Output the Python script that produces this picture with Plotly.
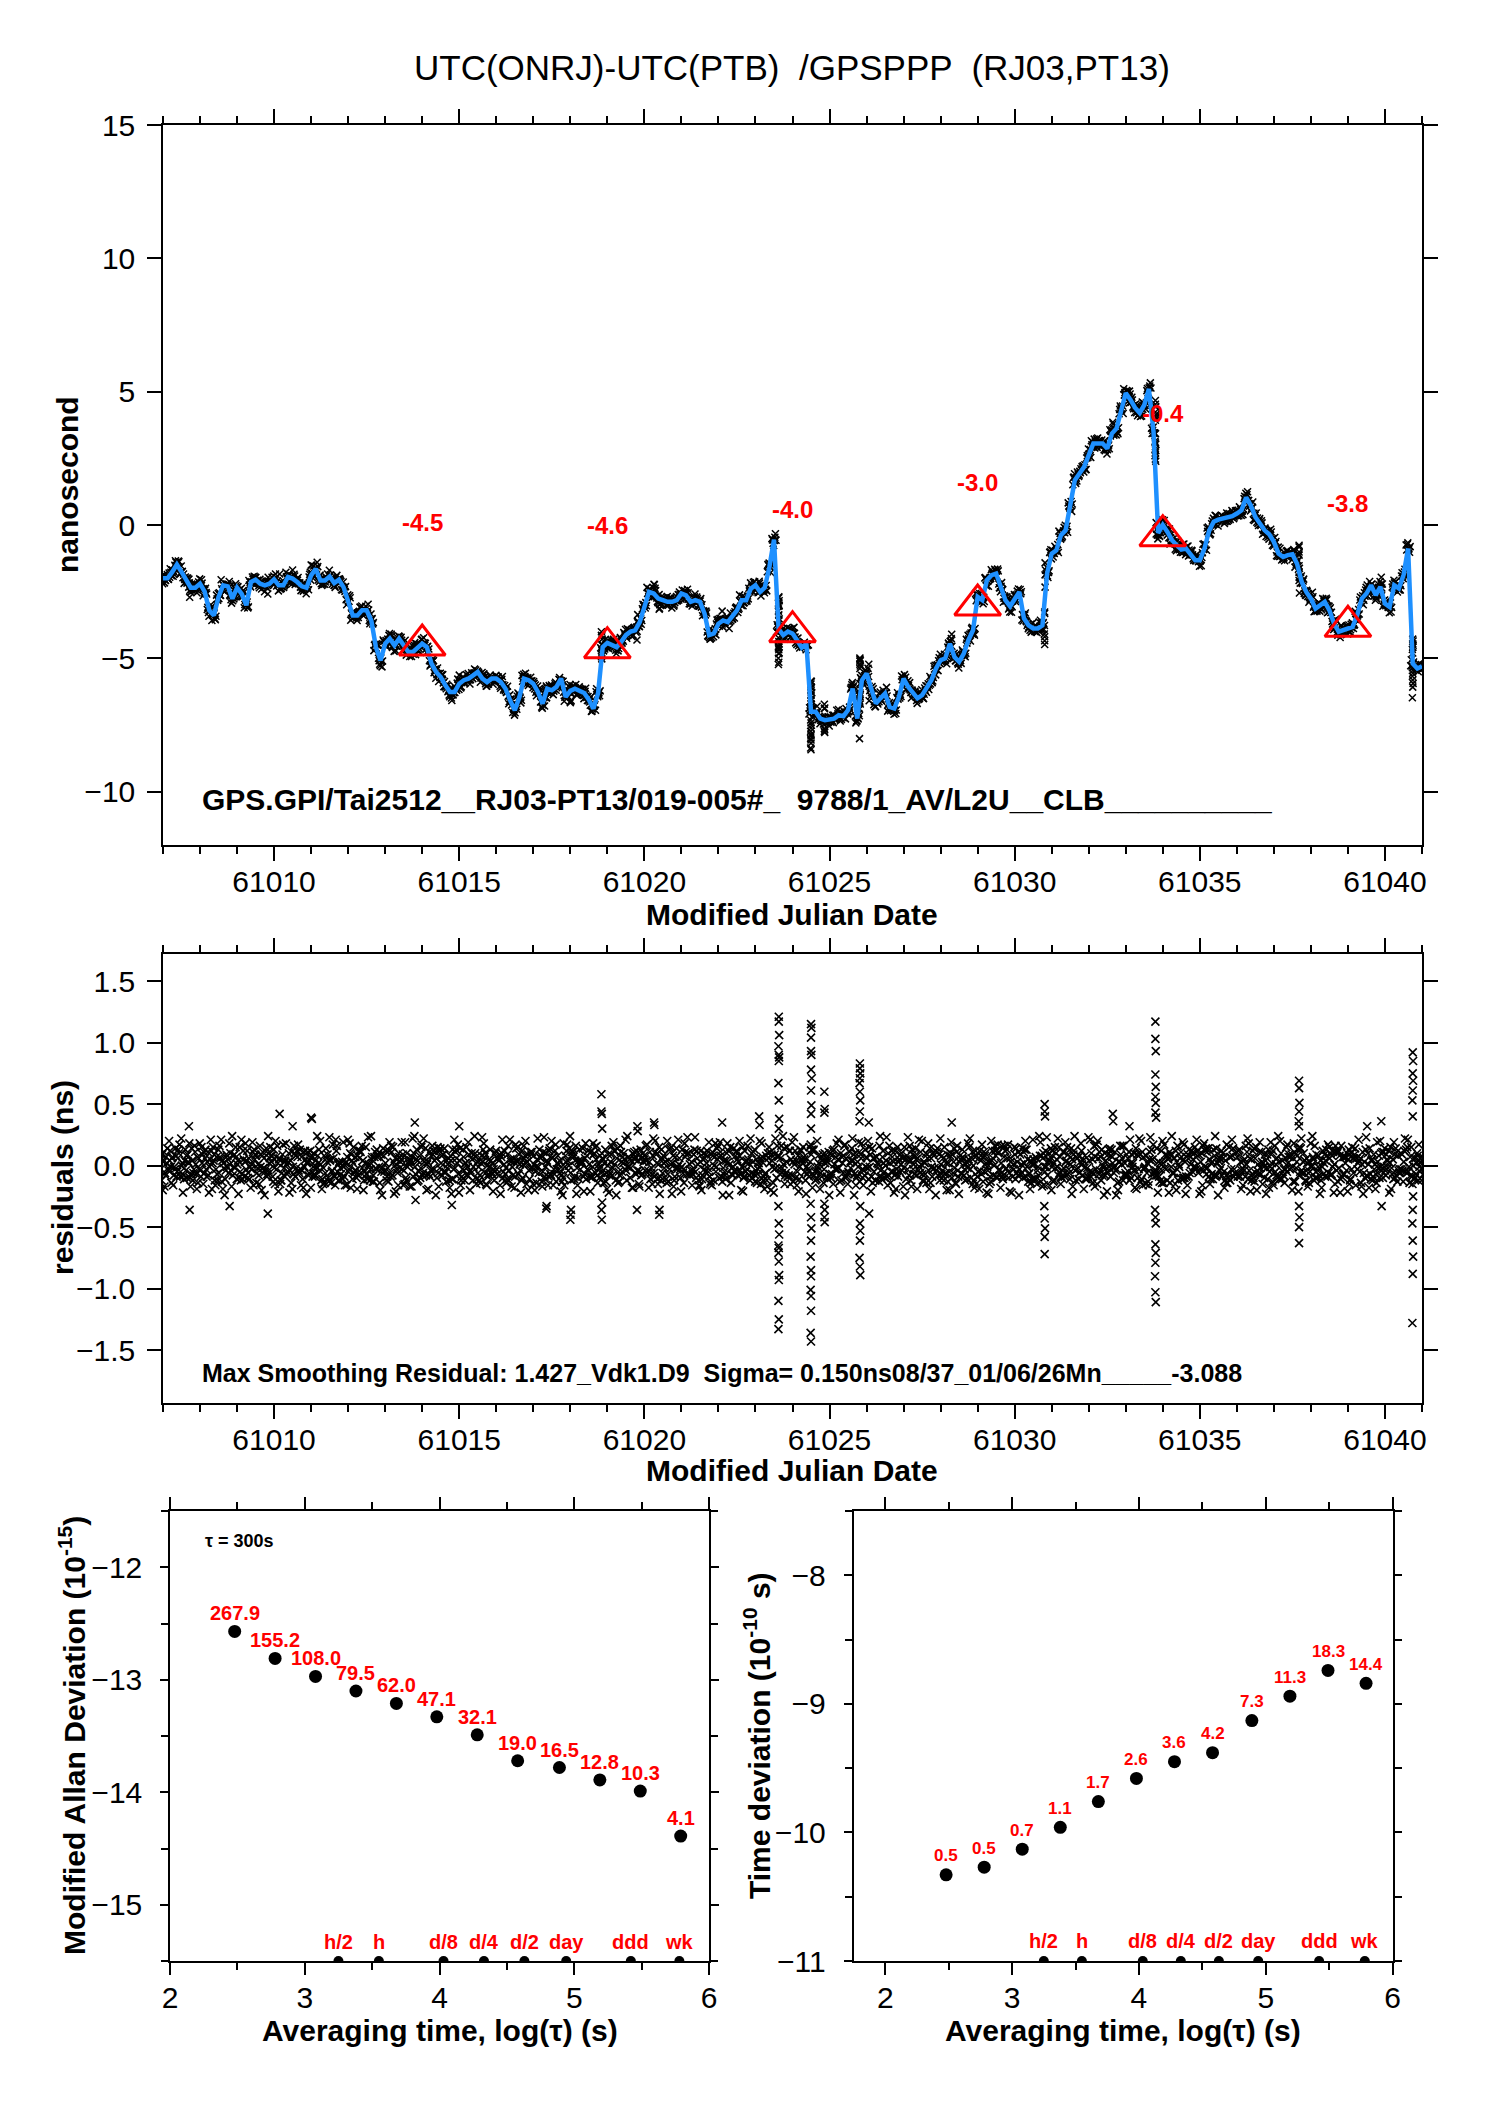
import numpy as np
import plotly.graph_objects as go

# ---------------- data ----------------
MJD0 = 61007.0
STEP = 0.125  # days between smoothed samples

# smoothed UTC(ONRJ)-UTC(PTB), ns (one row per day, 8 samples per day)
smooth_ns = [
    -2.00, -2.00, -1.76, -1.48, -1.76, -2.08, -2.35, -2.35,
    -2.20, -2.50, -3.20, -3.39, -2.70, -2.26, -2.30, -2.76,
    -2.35, -2.58, -3.01, -2.14, -2.05, -2.20, -2.26, -2.20,
    -2.04, -2.26, -2.26, -1.95, -2.01, -2.14, -2.30, -2.35,
    -1.89, -1.64, -2.08, -2.08, -1.93, -2.18, -2.05, -2.33,
    -2.83, -3.39, -3.39, -3.20, -3.20, -3.58, -4.58, -5.08,
    -4.45, -4.26, -4.51, -4.26, -4.51, -4.76, -4.76, -4.58,
    -4.45, -4.58, -5.20, -5.51, -5.70, -6.01, -6.26, -6.26,
    -5.95, -5.82, -5.76, -5.64, -5.51, -5.76, -5.89, -5.76,
    -5.76, -5.89, -6.14, -6.58, -6.95, -6.45, -5.76, -5.82,
    -5.95, -6.26, -6.70, -6.14, -6.20, -6.07, -5.76, -6.45,
    -6.22, -6.14, -6.20, -6.30, -6.55, -6.89, -6.30, -4.58,
    -4.42, -4.48, -4.58, -4.38, -4.13, -4.00, -3.95, -3.64,
    -3.07, -2.51, -2.57, -2.76, -2.82, -2.88, -2.88, -2.82,
    -2.57, -2.64, -2.88, -2.82, -2.88, -3.32, -4.13, -4.07,
    -3.70, -3.58, -3.64, -3.45, -3.20, -2.82, -2.82, -2.39,
    -2.26, -2.51, -2.35, -1.58, -0.55, -3.90, -4.13, -4.00,
    -4.07, -4.32, -4.60, -4.45, -7.00, -7.00, -7.26, -7.32,
    -7.30, -7.26, -7.13, -7.17, -6.94, -6.13, -7.26, -5.82,
    -5.57, -6.20, -6.69, -6.50, -6.32, -6.82, -6.88, -6.44,
    -5.76, -6.07, -6.32, -6.50, -6.38, -6.13, -5.82, -5.38,
    -5.07, -5.00, -4.45, -4.95, -5.13, -4.82, -4.32, -3.95,
    -2.69, -2.82, -2.07, -1.88, -1.82, -2.32, -2.82, -3.05,
    -2.76, -2.51, -3.50, -3.76, -3.88, -3.88, -3.76, -1.82,
    -1.07, -0.95, -0.38, -0.20, 0.74, 1.68, 1.93, 2.18,
    2.62, 3.06, 3.06, 3.06, 2.87, 3.43, 3.62, 4.30,
    4.95, 4.70, 4.40, 4.20, 4.50, 5.10, 3.50, -0.30,
    0.00, -0.26, -0.57, -0.76, -0.92, -0.88, -1.07, -1.32,
    -1.32, -0.88, -0.22, 0.12, 0.20, 0.24, 0.28, 0.33,
    0.43, 0.55, 1.03, 0.74, 0.30, 0.05, -0.20, -0.35,
    -0.63, -1.07, -1.20, -1.13, -1.10, -1.45, -2.13, -2.51,
    -2.76, -3.13, -3.00, -2.88, -3.20, -3.70, -4.00, -3.93,
    -3.88, -3.82, -3.38, -2.76, -2.57, -2.26, -2.63, -2.32,
    -2.95, -3.07, -2.26, -2.38, -1.88, -0.88, -5.20, -5.38,
    -5.30,
]

# residuals of the raw 300 s points about the smoothed curve (units of 0.01 ns),
# eight samples around each smoothed node
resid_a = [
    5, -8, 12, -3, 17, -11, 2, -6,   -14, 9, 3, -19, 7, 21, -4, 10,
    -2, 15, -9, 6, -16, 1, 11, -7,   8, -3, -12, 18, 4, -9, 13, -1,
    -6, 10, 2, -15, 9, -4, 16, -10,  3, -18, 7, 12, -5, 0, -13, 8,
    14, -2, -8, 5, 19, -12, 4, -7,   -10, 6, 11, -3, -17, 9, 1, 13,
    2, -9, 15, -6, 7, -14, 10, -1,   -12, 4, -5, 16, -8, 3, 12, -15,
    9, -1, 6, -11, 14, -7, -3, 18,   -4, 11, -16, 2, 8, -10, 5, -2,
    13, -6, 1, -13, 10, 7, -18, 4,   -7, 17, -2, 9, -12, 3, 14, -9,
    6, -14, 10, -4, 1, -8, 12, -16,  -1, 8, -11, 15, -5, 20, -9, 2,
    11, -3, 7, -17, 4, -10, 16, -6,  -15, 12, -1, 5, -9, 13, -4, 9,
    3, -7, 18, -12, 6, -2, 10, -13,  -8, 15, -5, 1, 12, -16, 7, -3,
    10, -11, 4, 14, -6, 2, -19, 8,   -2, 6, -13, 9, 16, -7, 3, -10,
    12, -4, 8, -15, 0, 11, -8, 17,   -9, 3, -6, 13, -14, 7, 19, -5,
    4, -12, 15, -2, 9, -17, 6, 1,    -11, 10, -3, 7, -8, 14, -1, -13,
    16, -5, 2, -10, 11, -6, 13, -4,  -3, 9, -14, 6, -1, 17, -9, 5,
    8, -16, 11, -7, 14, -2, 4, -12,  -6, 13, -4, 18, -10, 1, -15, 9,
    2, -8, 10, -3, 7, -13, 15, -6,   -14, 5, -1, 12, -9, 8, -4, 16,
    7, -11, 14, -5, 3, -18, 9, -2,   -10, 4, -7, 11, -3, 13, -8, 6,
    -5,
]
resid_b = [
    -12, 7, -1, 14, -9, 4, 18, -3,   6, -15, 11, 2, -7, -13, 9, -4,
    15, -5, 3, -11, 13, -8, -2, 10,  -9, 16, -6, 1, -14, 8, -3, 12,
    4, -7, 13, -2, -10, 17, -5, 3,   -16, 9, -4, 11, 2, -12, 7, -1,
    8, -13, 15, -6, -3, 10, -17, 5,  -2, 14, -9, 4, 12, -5, 6, -11,
    17, -3, -8, 10, -15, 2, -6, 13,  -5, 9, 1, -12, 6, 15, -10, 3,
    11, -14, 8, -1, -7, 12, 4, -16,  0, 7, -10, 14, -3, -9, 16, -6,
    -13, 3, 12, -8, 5, -1, 9, -4,    10, -6, -15, 2, 13, -11, 1, 7,
    -3, 18, -7, 9, -12, 5, -2, 11,   14, -9, 4, -14, 8, -4, 12, -8,
    -7, 2, -12, 10, -1, 16, -6, 3,   5, -10, 13, -5, 15, -8, 2, -14,
    -11, 12, -3, 7, -9, 4, -16, 9,   13, -1, 6, -13, 2, 10, -5, 15,
    -4, 8, -17, 5, 11, -7, 14, -2,   9, -12, 2, -6, -4, 13, -11, 6,
    -15, 4, 10, -9, 16, -3, 7, -10,  1, -8, 14, -1, -11, 6, -13, 12,
    7, 15, -6, 11, -3, 9, -2, -8,    -2, -5, 17, -12, 4, -9, 11, 3,
    -8, 11, -4, 8, -16, 2, -7, 14,   12, -3, 9, -15, 6, -10, 13, -1,
    -6, 16, -2, 3, -8, 12, -14, 7,   10, -9, 5, -4, 14, -7, 2, -11,
    -13, 6, -11, 15, -2, 9, -5, 4,   3, -12, 8, -7, 17, -1, 10, -9,
    -4, 10, -16, 6, -10, 14, -3, 8,  11, -2, 5, -13, 9, -6, 15, -7,
    3,
]
resid_c = [
    9, 2, -14, 8, -5, 13, -10, 16,   -3, 11, -8, 15, -12, 4, -1, -17,
    7, -12, 18, -1, 5, -15, 6, -4,   -13, 2, 9, -7, 11, -2, -16, 5,
    12, -9, -4, 8, -13, 6, 1, -11,   7, 4, -10, -6, 15, -3, 11, -14,
    -5, 12, 3, -16, 9, -1, 7, 13,    15, -8, -4, 11, -2, 14, -12, -3,
    -7, 13, -1, 5, -11, 8, -15, 4,   10, -16, 12, -4, 3, -7, 1, 9,
    -2, 5, -13, 10, -8, 17, -6, -1,  14, -11, 4, -9, 12, -1, -8, 10,
    -6, 9, -12, 16, -3, 5, 11, -15,  3, -4, 8, -11, 6, -14, 15, -2,
    -10, 7, 1, 13, -16, 10, -5, 8,   5, -13, 10, -2, 11, -7, 3, -12,
    13, -1, -9, 6, -14, 8, -2, 15,   -8, 4, 12, -12, 3, -5, 9, -3,
    11, -15, 5, 2, -7, 14, -10, 6,   -1, 9, -12, 16, -5, -8, 3, -9,
    6, -3, 13, -8, 1, 10, -14, 12,   -12, 15, -5, 3, -9, 7, -2, 11,
    8, -7, 2, -13, 12, -4, 16, -6,   -3, 11, -10, 5, 1, -15, 8, -1,
    14, -2, 7, -9, -6, 12, -11, 4,   -9, 5, -15, 13, -2, 8, -4, 16,
    2, -12, 10, -3, 7, -13, 5, -8,   -14, 8, -1, 12, -10, 3, -6, 10,
    9, -4, 14, -11, 2, -8, 17, -3,   -7, 3, -9, 6, -13, 11, -1, 13,
    12, -10, 4, -5, 9, -2, 14, -12,  -5, 16, -8, 2, -6, 11, -13, 7,
    10, -3, 6, -14, 13, -7, 1, -10,  -1, 12, -11, 8, -4, 15, -9, 2,
    7,
]
resid_d = [
    -20, 14, 6, -9, 22, -4, -17, 11,   18, -6, -22, 4, 13, -19, 8, 24,
    -11, 21, -3, -18, 9, 16, -24, 2,   13, -21, 17, -5, -19, 12, 7, -23,
    -18, 4, 20, -14, 23, -8, -12, 19,  21, -11, -19, 16, -7, 24, -2, -20,
    -4, 19, -23, 10, -16, 6, 22, -13,  17, -20, 8, -24, 14, -6, -18, 21,
    -22, 7, 19, -12, 3, 23, -16, -5,   12, -23, -7, 21, -18, 9, 16, -20,
    -15, 22, -17, 4, 20, -13, -21, 8,  24, -9, 13, -21, -4, 18, -14, 6,
    -19, 16, -24, 11, 21, -10, 5, -17, 8, -18, 22, -15, -6, 20, -23, 14,
    -21, 11, -8, 23, -17, -3, 19, -12, 16, -24, 18, -7, 12, -20, -5, 22,
    -13, 20, -19, 15, -22, 7, 24, -9,  19, -16, 5, -23, 17, -12, -19, 10,
    -24, 13, 21, -6, -15, 22, -8, 18,  7, -21, -12, 24, -10, 16, -22, 3,
    -17, 23, 9, -19, 20, -14, 6, -24,  22, -7, -20, 14, -23, 5, 18, -15,
    -9, 17, -22, 20, 8, -18, 12, -21,  15, -24, 11, -13, 21, -4, -17, 23,
    -20, 10, -15, 19, -11, 24, -6, -19, 23, -14, 20, -8, -21, 13, -24, 9,
    -6, 21, -18, 22, -3, -16, 17, -22, 20, -12, 24, -20, 11, -23, 7, 15,
    -23, 18, -9, 13, -24, 10, -14, 21, 11, -19, 16, -21, 6, 19, -10, -18,
    -16, 24, -5, 17, -20, 3, 22, -13,  18, -10, -23, 9, 15, -22, 12, -7,
    -21, 15, 6, -17, 23, -11, -19, 20, 14, -22, 19, -4, -13, 21, -15, 10,
    -12,
]
resid_e = [
    3, -2, 7, -5, 0, 8, -7, 1,     -4, 6, -1, 9, -6, 2, 5, -8,
    1, -7, 4, -3, 8, -1, -5, 6,    -2, 5, -8, 3, -1, 7, -4, 2,
    6, -3, 1, -6, 4, -9, 3, -1,    -5, 2, 8, -2, -7, 5, -3, 9,
    2, -6, 0, 7, -4, 3, -9, 4,     -8, 1, -3, 6, 2, -5, 8, -2,
    4, -4, 9, -1, -6, 3, 0, -7,    -3, 7, -2, 5, -9, 1, 6, -4,
    8, -1, -5, 2, 6, -3, -8, 3,    -6, 4, 2, -7, 1, 9, -2, 5,
    0, -8, 6, 3, -4, -2, 7, -5,    5, 3, -6, 1, 8, -7, 2, -3,
    -1, 9, -4, -5, 3, 6, -9, 0,    7, -2, 3, -8, 5, -1, 4, -6,
    -4, 6, -7, 2, -3, 8, 1, -9,    3, -5, 5, -1, 9, -4, -6, 2,
    -7, 1, -2, 8, -5, 4, 3, -3,    6, -9, 7, -4, 0, 2, -8, 5,
    -2, 4, -3, 6, -7, 9, -1, -4,   1, -6, 8, -2, 3, -8, 5, 0,
    -5, 7, -1, 4, -9, 2, -3, 6,    9, -3, 2, -7, 5, -1, 6, -8,
    -1, 5, -9, 3, 1, -4, 8, -2,    4, -7, 6, 0, -5, 7, -3, 1,
    -8, 2, -4, 9, -2, 5, -6, 3,    2, 8, -6, -3, 7, -9, 1, -1,
    -3, -1, 5, -8, 4, 6, -7, 8,    7, -4, 1, 5, -6, -2, 9, -5,
    -6, 3, -8, 2, -1, 8, -4, 6,    0, -5, 4, -9, 6, 1, -2, 7,
    5, 6, -3, 1, -8, 4, -7, -1,    -4, 2, 9, -6, 3, -5, 0, 8,
    -2,
]
resid_f = [
    11, -4, -16, 6, 2, -10, 14, -7,   -9, 13, 5, -12, 16, -2, -6, 8,
    4, -11, 12, 1, -14, 9, -3, 15,    -15, 6, -2, 10, -7, 17, -11, 3,
    8, -1, -12, 14, 5, -16, 2, -9,    -3, 15, -8, 4, -11, 7, 13, -5,
    12, -9, 6, -2, -15, 1, 10, -12,   -6, 3, 16, -10, 8, -13, 4, 11,
    14, -12, -5, 9, -1, 13, -9, 2,    -7, 10, -14, 3, 17, -4, 8, -11,
    1, -6, 11, -16, 7, 2, -13, 12,    -12, 16, -3, 6, -9, 10, 1, -14,
    9, -2, 14, -5, -12, 4, -7, 13,    -4, 11, -9, 15, 2, -13, 8, -1,
    13, -7, 3, -10, 12, -5, -15, 7,   -10, 4, 12, -1, -8, 15, -3, 10,
    5, -15, -6, 11, 9, -2, 14, -8,    -13, 8, 2, -7, 13, -11, 6, 4,
    10, -3, -13, 16, -6, 9, -1, -10,  -2, 14, 7, -9, 4, -14, 12, -5,
    15, -8, 1, -4, -12, 6, -9, 11,    -7, 2, 10, -14, 8, -3, 15, -12,
    6, -13, -4, 12, -10, 16, -2, 3,   -11, 9, 13, -6, 1, -8, 10, -15,
    12, -1, -10, 4, 14, -12, 3, 8,    -5, 16, -7, -2, 9, 2, -14, 6,
    9, -10, 14, -13, -1, 11, -4, -9,  -14, 5, -6, 16, -11, 7, 12, -3,
    3, 12, -15, 8, 6, -5, -10, 14,    -9, -2, 11, -12, 15, -7, 4, -1,
    16, -11, -3, 7, -13, 13, -6, 2,   -1, 9, -12, 4, 10, -15, 8, -7,
    13, -6, 2, 11, -9, 5, -14, 10,    -8, 15, -10, -3, 12, -1, 6, -12,
    4,
]
resid_g = [
    -17, 20, -8, 13, -22, 9, 4, -19,   15, -3, 21, -16, 7, -24, 18, -1,
    -23, 12, -10, 19, -6, -20, 14, 8,  20, -15, 3, -22, 16, -4, -18, 11,
    -9, 24, -19, 6, -14, 21, -2, -16,  18, -6, 12, -20, 23, -13, 7, -24,
    -12, 16, -21, 3, 19, -17, 24, -5,  22, -19, 9, 15, -8, 4, -23, 13,
    -16, 2, -20, 24, -12, 18, -7, -21, 6, 21, -11, -17, 14, -22, 20, -3,
    -20, 13, 23, -9, -16, 8, -24, 17,  11, -23, 4, 18, -21, 15, -10, 2,
    -22, 19, -14, 7, 24, -18, 12, -8,  16, -11, 20, -23, -2, 13, -17, 21,
    -6, 23, -16, 12, -20, 9, -13, 18,  19, -5, -24, 14, 3, -21, 16, -10,
    -14, 18, 8, -20, 22, -7, -15, 12,  23, -21, 15, -3, -18, 20, -9, 6,
    -10, 7, -22, 17, 11, -24, 19, -16, 20, -14, 2, -11, 23, -5, -19, 9,
    -24, 16, -7, 21, -13, 18, -3, 14,  8, -20, 19, -15, 5, -12, 22, -18,
    -19, 11, -23, 6, 17, -9, 13, -22,  14, -7, 20, -19, -10, 24, -16, 4,
    -13, 22, -4, 15, -23, 7, 18, -11,  21, -17, 11, -24, 13, -2, -20, 16,
    -8, 9, -19, 20, -15, 23, -6, -13,  17, -22, 6, -12, 19, -16, 10, 21,
    -21, 14, -11, 24, -4, -18, 15, -9, 12, -16, 22, -7, -20, 11, -23, 19,
    -5, 20, -14, 9, 18, -21, 3, -17,   24, -10, -18, 13, -8, 16, -22, 7,
    -15, 6, 21, -23, 10, -12, 19, -4,  9, -19, 14, -6, 22, -14, -11, 17,
    -7,
]
resid_h = [
    -6, 4, -1, 10, -8, 3, -12, 7,    2, -9, 12, -3, 6, -11, 1, 9,
    -10, 5, -6, 11, -2, 8, -9, 3,    7, -12, 4, -4, 10, -6, 11, -8,
    -1, 8, -11, 3, -5, 12, -7, 2,    10, -4, 6, -12, 1, -8, 9, -2,
    -9, 11, -3, 5, -10, 4, -1, 8,    3, -7, 12, -6, 9, -2, -11, 6,
    -12, 2, -4, 10, -8, 7, 5, -3,    6, -10, 9, -1, 4, -12, 2, 11,
    -5, 7, -9, 12, -3, 1, -10, 4,    9, -2, 3, -11, 11, -6, 8, -7,
    -8, 12, -5, 2, -1, 10, -4, 6,    4, -6, 11, -9, 7, -3, -12, 1,
    -3, 10, -7, 6, -11, 2, 9, -5,    11, -8, 1, -4, 8, -10, 5, 3,
    -7, 3, -12, 9, -2, 6, -8, 12,    1, -11, 7, -5, 12, -1, 4, -9,
    8, -3, 10, -10, 2, -7, 11, -4,   -11, 6, -2, 7, -9, 12, -6, 1,
    5, -12, 8, -1, 3, -4, 10, -8,    -4, 9, -10, 11, -6, 1, -3, 7,
    12, -5, 3, -8, 10, -11, 6, -2,   -6, 1, -9, 4, -12, 8, -1, 10,
    2, -8, 11, -7, 5, -3, 12, -10,   -9, 7, -4, 10, -1, -6, 3, -12,
    6, -1, 9, -11, 8, 4, -8, 2,      -2, 11, -6, 1, -10, 9, -5, 12,
    10, -7, 2, -9, 6, -12, 7, -3,    -8, 4, -11, 12, -4, 3, -2, 9,
    1, -10, 6, -3, 11, -8, 10, -6,   7, -4, -1, 8, -7, 12, -11, 2,
    -12, 9, 4, -6, 1, -9, 3, 11,     5, -2, -8, 10, -5, 7, -10, -1,
    6,
]
resid_cols = [resid_a, resid_b, resid_c, resid_d, resid_e, resid_f, resid_g, resid_h]
col_time_offset = [-0.055, -0.039, -0.023, -0.008, 0.008, 0.023, 0.039, 0.055]  # days

# larger residual excursions (MJD, ns)
spike_mjd = [
    61007.70, 61007.72, 61008.80, 61009.83, 61009.84, 61010.15, 61010.50, 61011.00, 61011.02,
    61013.80, 61013.82, 61014.80, 61015.00, 61017.35, 61017.36, 61018.00, 61018.01, 61018.02,
    61018.84, 61018.84, 61018.85, 61018.86, 61018.84, 61018.85, 61018.86,
    61019.80, 61019.81, 61019.82, 61020.26, 61020.27, 61020.40, 61020.41, 61022.10, 61023.10, 61023.11,
    61023.63, 61023.63, 61023.64, 61023.62, 61023.63, 61023.64, 61023.63, 61023.62, 61023.63, 61023.64, 61023.63,
    61023.62, 61023.63, 61023.64, 61023.62, 61023.63, 61023.62, 61023.63, 61023.64, 61023.63, 61023.62, 61023.63, 61023.62,
    61024.50, 61024.51, 61024.50, 61024.50, 61024.51, 61024.50, 61024.52, 61024.50, 61024.51, 61024.50, 61024.50,
    61024.49, 61024.50, 61024.51, 61024.50, 61024.49, 61024.50, 61024.50, 61024.49, 61024.50, 61024.50, 61024.49, 61024.50,
    61024.86, 61024.87, 61024.86, 61024.86, 61024.87, 61024.86, 61024.87,
    61025.82, 61025.82, 61025.83, 61025.82, 61025.81, 61025.82, 61025.83, 61025.82, 61025.81,
    61025.83, 61025.82, 61025.83, 61025.82, 61025.81, 61025.82, 61025.83,
    61026.06, 61026.07, 61028.30,
    61030.81, 61030.81, 61030.82, 61030.80, 61030.81, 61030.82, 61030.81, 61030.81,
    61032.65, 61032.66, 61033.10,
    61033.80, 61033.80, 61033.81, 61033.80, 61033.81, 61033.80, 61033.81, 61033.80, 61033.82,
    61033.79, 61033.80, 61033.81, 61033.80, 61033.81, 61033.80, 61033.79, 61033.80, 61033.81,
    61037.68, 61037.68, 61037.69, 61037.68, 61037.67, 61037.68, 61037.68, 61037.69, 61037.68, 61037.68,
    61039.52, 61039.90, 61039.91,
    61040.75, 61040.76, 61040.75, 61040.76, 61040.75, 61040.74, 61040.75,
    61040.76, 61040.75, 61040.74, 61040.75, 61040.76, 61040.75, 61040.74,
]
spike_ns = [
    0.32, -0.36, -0.33, -0.39, 0.24, 0.42, 0.32, 0.39, 0.38,
    0.35, -0.28, -0.32, 0.32, -0.35, -0.33, -0.44, -0.40, -0.36,
    0.58, 0.44, 0.42, 0.30, -0.36, -0.44, -0.30,
    -0.36, 0.32, 0.28, 0.35, 0.33, -0.40, -0.36, 0.35, 0.40, 0.33,
    1.21, 1.17, 1.06, 0.97, 0.90, 0.88, 0.85, 0.67, 0.53, 0.38, 0.30,
    -0.33, -0.47, -0.56, -0.65, -0.67, -0.71, -0.78, -0.89, -0.93, -1.10, -1.25, -1.33,
    1.15, 1.12, 1.04, 0.93, 0.90, 0.78, 0.71, 0.61, 0.49, 0.42, 0.30,
    -0.31, -0.42, -0.51, -0.61, -0.74, -0.85, -0.90, -1.01, -1.06, -1.18, -1.36, -1.43,
    0.60, 0.46, 0.43, -0.31, -0.36, -0.42, -0.46,
    0.83, 0.79, 0.75, 0.71, 0.67, 0.60, 0.53, 0.44, 0.36,
    -0.33, -0.47, -0.53, -0.61, -0.75, -0.82, -0.89,
    0.35, -0.39, 0.35,
    0.50, 0.44, 0.40, -0.33, -0.43, -0.51, -0.58, -0.72,
    0.42, 0.36, 0.32,
    1.17, 1.03, 0.93, 0.74, 0.64, 0.56, 0.51, 0.43, 0.39,
    -0.36, -0.42, -0.47, -0.64, -0.71, -0.79, -0.90, -1.03, -1.11,
    0.69, 0.63, 0.51, 0.44, 0.36, 0.32, -0.33, -0.42, -0.50, -0.63,
    0.32, 0.36, -0.33,
    0.92, 0.85, 0.75, 0.69, 0.61, 0.53, 0.40,
    -0.25, -0.36, -0.47, -0.61, -0.74, -0.88, -1.28,
]

# 5-day reference points
tri_mjd = [61014, 61019, 61024, 61029, 61034, 61039]
tri_ns = [-4.5, -4.6, -4.0, -3.0, -0.4, -3.8]

# stability plots
log_tau = [2.48, 2.78, 3.08, 3.38, 3.68, 3.98, 4.28, 4.58, 4.89, 5.19, 5.49, 5.79]
mdev_log = [-12.57, -12.81, -12.97, -13.10, -13.21, -13.33, -13.49, -13.72, -13.78, -13.89, -13.99, -14.39]
mdev_labels = ["267.9", "155.2", "108.0", "79.5", "62.0", "47.1", "32.1", "19.0", "16.5", "12.8", "10.3", "4.1"]
tdev_log = [-10.33, -10.27, -10.13, -9.96, -9.76, -9.58, -9.45, -9.38, -9.13, -8.94, -8.74, -8.84]
tdev_labels = ["0.5", "0.5", "0.7", "1.1", "1.7", "2.6", "3.6", "4.2", "7.3", "11.3", "18.3", "14.4"]
mark_log_tau = [3.25, 3.55, 4.03, 4.33, 4.63, 4.94, 5.42, 5.78]
mark_labels = ["h/2", "h", "d/8", "d/4", "d/2", "day", "ddd", "wk"]

TITLE = "UTC(ONRJ)-UTC(PTB)  /GPSPPP  (RJ03,PT13)"
INFO1 = "GPS.GPI/Tai2512__RJ03-PT13/019-005#_  9788/1_AV/L2U__CLB__________"
INFO2 = "Max Smoothing Residual: 1.427_Vdk1.D9  Sigma= 0.150ns08/37_01/06/26Mn_____-3.088"

# ---------------- build ----------------
W, H = 1488, 2105
OFF = 8  # page margin around the figure, px
FONT = "Liberation Sans, Arial, Helvetica, sans-serif"
BLUE = "#1E90FF"
RED = "#FF0000"


def xdom(a, b):
    return [(a - OFF) / W, (b - OFF) / W]


def ydom(top, bottom):
    return [1 - (bottom - OFF) / H, 1 - (top - OFF) / H]


smooth = np.array(smooth_ns)
t_smooth = MJD0 + STEP * np.arange(len(smooth))

raw_t, raw_v, res_t, res_v = [], [], [], []
for col, off in zip(resid_cols, col_time_offset):
    n = min(len(col), len(smooth))
    r = np.array(col[:n]) / 100.0
    tt = t_smooth[:n] + off
    res_t.append(tt); res_v.append(r)
    raw_t.append(tt); raw_v.append(smooth[:n] + r)
sp_t = np.array(spike_mjd)
sp_v = np.array(spike_ns)
idx = np.clip(np.rint((sp_t - MJD0) / STEP).astype(int), 0, len(smooth) - 1)
res_t.append(sp_t); res_v.append(sp_v)
raw_t.append(sp_t); raw_v.append(smooth[idx] + sp_v)
res_t = np.concatenate(res_t); res_v = np.concatenate(res_v)
raw_t = np.concatenate(raw_t); raw_v = np.concatenate(raw_v)

fig = go.Figure()

xmark_top = dict(symbol="x-thin", size=7, color="black", line=dict(width=1.5, color="black"))
xmark_res = dict(symbol="x-thin", size=8, color="black", line=dict(width=1.6, color="black"))

# top panel
fig.add_trace(go.Scatter(x=raw_t, y=raw_v, mode="markers", marker=xmark_top,
                         xaxis="x", yaxis="y", showlegend=False, hoverinfo="skip"))
fig.add_trace(go.Scatter(x=t_smooth, y=smooth, mode="lines", line=dict(color=BLUE, width=4.5),
                         xaxis="x", yaxis="y", showlegend=False))
fig.add_trace(go.Scatter(x=tri_mjd, y=tri_ns, mode="markers",
                         marker=dict(symbol="triangle-up-open", size=40, color=RED,
                                     line=dict(width=3, color=RED)),
                         xaxis="x", yaxis="y", showlegend=False))

# residual panel
fig.add_trace(go.Scatter(x=res_t, y=res_v, mode="markers", marker=xmark_res,
                         xaxis="x2", yaxis="y2", showlegend=False, hoverinfo="skip"))

# MDEV panel
dot = dict(symbol="circle", size=13, color="black")
fig.add_trace(go.Scatter(x=log_tau, y=mdev_log, mode="markers", marker=dot,
                         xaxis="x3", yaxis="y3", showlegend=False))
fig.add_trace(go.Scatter(x=mark_log_tau, y=[-15.5] * len(mark_log_tau), mode="markers",
                         marker=dict(symbol="circle", size=10, color="black"),
                         xaxis="x3", yaxis="y3", showlegend=False))
# TDEV panel
fig.add_trace(go.Scatter(x=log_tau, y=tdev_log, mode="markers", marker=dot,
                         xaxis="x4", yaxis="y4", showlegend=False))
fig.add_trace(go.Scatter(x=mark_log_tau, y=[-11.0] * len(mark_log_tau), mode="markers",
                         marker=dict(symbol="circle", size=10, color="black"),
                         xaxis="x4", yaxis="y4", showlegend=False))

tickfont = dict(family=FONT, size=30, color="black")
common = dict(showline=True, linecolor="black", linewidth=1.5, mirror="ticks",
              ticks="outside", tickcolor="black", tickwidth=1.5, showgrid=False,
              zeroline=False, tickfont=tickfont, automargin=False)
minor_x = dict(ticks="outside", tickcolor="black", tickwidth=1.5)

top_x = xdom(163, 1422)
bl_x = xdom(170, 709)
br_x = xdom(853.5, 1392.7)
bot_y = ydom(1511, 1961)
fig.update_layout(
    width=W, height=H, margin=dict(l=0, r=0, t=0, b=0, pad=0, autoexpand=False),
    paper_bgcolor="white", plot_bgcolor="white", showlegend=False,
    font=dict(family=FONT, color="black"),
    xaxis=dict(domain=top_x, range=[61007, 61041], anchor="y", tick0=61000, dtick=5,
               tickformat="d", ticklen=14, ticklabelstandoff=-5,
               minor=dict(dtick=1, ticklen=7, **minor_x), **common),
    yaxis=dict(domain=ydom(125, 845), range=[-12, 15], anchor="x", tick0=0, dtick=5,
               ticklen=14, ticklabelstandoff=6, **common),
    xaxis2=dict(domain=top_x, range=[61007, 61041], anchor="y2", tick0=61000, dtick=5,
                tickformat="d", ticklen=14, ticklabelstandoff=-5,
                minor=dict(dtick=1, ticklen=7, **minor_x), **common),
    yaxis2=dict(domain=ydom(954, 1403), range=[-1.93, 1.72], anchor="x2", tick0=0, dtick=0.5,
                tickformat=".1f", ticklen=14, ticklabelstandoff=6, **common),
    xaxis3=dict(domain=bl_x, range=[2, 6], anchor="y3", tick0=0, dtick=1,
                ticklen=12, ticklabelstandoff=-3,
                minor=dict(dtick=0.5, ticklen=7, **minor_x), **common),
    yaxis3=dict(domain=bot_y, range=[-15.5, -11.5], anchor="x3", tick0=0, dtick=1,
                ticklen=8, ticklabelstandoff=12, **common),
    xaxis4=dict(domain=br_x, range=[1.75, 6], anchor="y4", tick0=0, dtick=1,
                ticklen=12, ticklabelstandoff=-3,
                minor=dict(dtick=0.5, ticklen=7, **minor_x), **common),
    yaxis4=dict(domain=bot_y, range=[-11, -7.5], anchor="x4", tick0=0, dtick=1,
                ticklen=8, ticklabelstandoff=12, **common),
    # half-unit tick marks of the stability plots' y axes
    yaxis5=dict(domain=bot_y, range=[-15.5, -11.5], anchor="x3", overlaying="y3", side="left",
                tick0=0.5, dtick=1, ticks="outside", ticklen=8, tickwidth=1.5, tickcolor="black",
                mirror="ticks", showline=False, showticklabels=False, showgrid=False,
                zeroline=False, automargin=False),
    yaxis6=dict(domain=bot_y, range=[-11, -7.5], anchor="x4", overlaying="y4", side="left",
                tick0=0.5, dtick=1, ticks="outside", ticklen=8, tickwidth=1.5, tickcolor="black",
                mirror="ticks", showline=False, showticklabels=False, showgrid=False,
                zeroline=False, automargin=False),
)
# empty traces so the overlay axes are drawn
fig.add_trace(go.Scatter(x=[], y=[], xaxis="x3", yaxis="y5", showlegend=False))
fig.add_trace(go.Scatter(x=[], y=[], xaxis="x4", yaxis="y6", showlegend=False))

ann = []


def paper_text(text, x_px, y_px, size, bold=False, angle=0, color="black", xanchor="center"):
    ann.append(dict(text=("<b>%s</b>" % text) if bold else text,
                    x=(x_px - OFF) / W, y=1 - (y_px - OFF) / H,
                    xref="paper", yref="paper", showarrow=False, textangle=angle,
                    xanchor=xanchor, yanchor="middle",
                    font=dict(family=FONT, size=size, color=color)))


paper_text(TITLE, 792, 67, 35)
paper_text("nanosecond", 67, 485, 30, bold=True, angle=-90)
paper_text("Modified Julian Date", 792, 914, 30, bold=True)
paper_text("residuals (ns)", 62, 1178, 30, bold=True, angle=-90)
paper_text("Modified Julian Date", 792, 1470, 30, bold=True)
paper_text("Modified Allan Deviation (10<sup>-15</sup>)", 72, 1736, 30, bold=True, angle=-90)
paper_text("Averaging time, log(τ) (s)", 440, 2030, 30, bold=True)
paper_text("Time deviation (10<sup>-10</sup> s)", 757, 1736, 30, bold=True, angle=-90)
paper_text("Averaging time, log(τ) (s)", 1123, 2030, 30, bold=True)
paper_text("τ = 300s", 203, 1541, 18, bold=True, xanchor="left")

# info strings inside the panels
ann.append(dict(text="<b>%s</b>" % INFO1, x=61008.0, y=-10.28, xref="x", yref="y",
                showarrow=False, xanchor="left", yanchor="middle",
                font=dict(family=FONT, size=30, color="black")))
ann.append(dict(text="<b>%s</b>" % INFO2, x=61008.0, y=-1.69, xref="x2", yref="y2",
                showarrow=False, xanchor="left", yanchor="middle",
                font=dict(family=FONT, size=25, color="black")))

# triangle value labels
for m, v in zip(tri_mjd, tri_ns):
    ann.append(dict(text="<b>%.1f</b>" % v, x=m, y=v + 4.6, xref="x", yref="y",
                    showarrow=False, xanchor="center", yanchor="middle",
                    font=dict(family=FONT, size=24, color=RED)))

# stability value labels
for xv, yv, lab in zip(log_tau, mdev_log, mdev_labels):
    ann.append(dict(text="<b>%s</b>" % lab, x=xv, y=yv, xref="x3", yref="y3", yshift=18,
                    showarrow=False, xanchor="center", yanchor="middle",
                    font=dict(family=FONT, size=20, color=RED)))
for xv, yv, lab in zip(log_tau, tdev_log, tdev_labels):
    ann.append(dict(text="<b>%s</b>" % lab, x=xv, y=yv, xref="x4", yref="y4", yshift=19,
                    showarrow=False, xanchor="center", yanchor="middle",
                    font=dict(family=FONT, size=17, color=RED)))
for xv, lab in zip(mark_log_tau, mark_labels):
    ann.append(dict(text="<b>%s</b>" % lab, x=xv, y=-15.5, xref="x3", yref="y3", yshift=19,
                    showarrow=False, xanchor="center", yanchor="middle",
                    font=dict(family=FONT, size=20, color=RED)))
    ann.append(dict(text="<b>%s</b>" % lab, x=xv, y=-11.0, xref="x4", yref="y4", yshift=20,
                    showarrow=False, xanchor="center", yanchor="middle",
                    font=dict(family=FONT, size=20, color=RED)))

fig.update_layout(annotations=ann)
fig.write_html("out.html")
